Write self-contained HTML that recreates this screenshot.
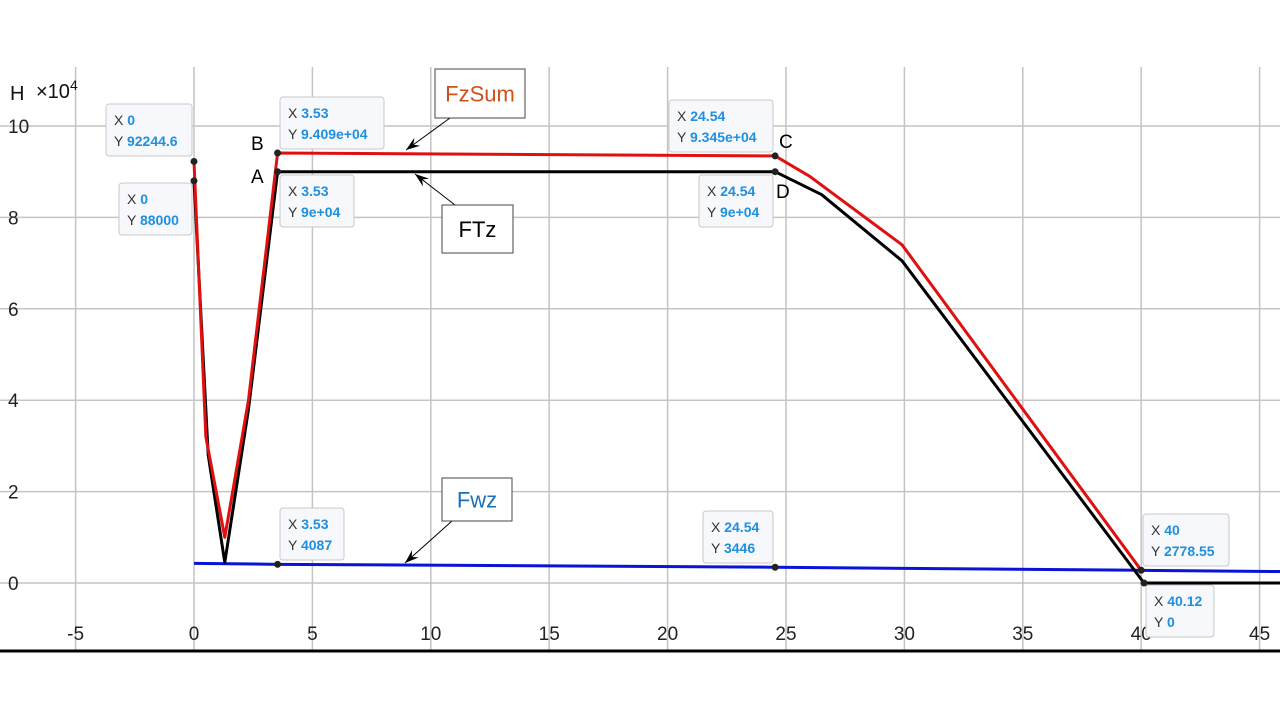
<!DOCTYPE html>
<html><head><meta charset="utf-8"><style>
body{margin:0;background:#fff;width:1280px;height:720px;overflow:hidden;font-family:"Liberation Sans",sans-serif}
svg text{font-family:"Liberation Sans",sans-serif}
</style></head><body>
<svg id="chart" width="1280" height="720" xmlns="http://www.w3.org/2000/svg"></svg>
<script>
const xTicks=[-5,0,5,10,15,20,25,30,35,40,45];
const yTicks=[0,2,4,6,8,10];
const ftzX=[0,0.6,1.3,2.3,3.53,24.54,26.5,29.9,40.12,46];
const ftzY=[8.8,2.8,0.45,3.8,9.0,9.0,8.5,7.05,0,0];
const fzsumX=[0,0.5,1.3,2.3,3.53,24.54,26,29.9,40];
const fzsumY=[9.22446,3.2,1.0,4.0,9.409,9.345,8.9,7.4,0.277855];
const fwzX=[0,3.53,24.54,40,46];
const fwzY=[0.43,0.4087,0.3446,0.277855,0.25];
const tips=[
 {x:0,y:9.22446,tx:106,ty:104,w:86,l1:"0",l2:"92244.6"},
 {x:0,y:8.8,tx:119,ty:183,w:73,l1:"0",l2:"88000"},
 {x:3.53,y:9.409,tx:280,ty:97,w:104,l1:"3.53",l2:"9.409e+04"},
 {x:3.53,y:9.0,tx:280,ty:175,w:74,l1:"3.53",l2:"9e+04"},
 {x:24.54,y:9.345,tx:669,ty:100,w:104,l1:"24.54",l2:"9.345e+04"},
 {x:24.54,y:9.0,tx:699,ty:175,w:74,l1:"24.54",l2:"9e+04"},
 {x:3.53,y:0.4087,tx:280,ty:508,w:64,l1:"3.53",l2:"4087"},
 {x:24.54,y:0.3446,tx:703,ty:511,w:70,l1:"24.54",l2:"3446"},
 {x:40,y:0.277855,tx:1143,ty:514,w:86,l1:"40",l2:"2778.55"},
 {x:40.12,y:0,tx:1146,ty:585,w:68,l1:"40.12",l2:"0"}
];
const svg=document.getElementById('chart');
const NS='http://www.w3.org/2000/svg';
function X(v){return 194+v*23.68;}
function Y(v){return 583-v*45.7;}
function mk(tag,attrs,parent){const e=document.createElementNS(NS,tag);for(const k in attrs)e.setAttribute(k,attrs[k]);(parent||svg).appendChild(e);return e;}
// grid
xTicks.forEach(t=>{
 const l=mk('line',{x1:X(t),x2:X(t),y1:67,y2:650,stroke:'#c4c4c4','stroke-width':1.5});
 
 
 const tx=mk('text',{x:X(t),y:640,'font-size':19,'text-anchor':'middle',fill:'#222'});
 tx.textContent=t;
 
 
});
yTicks.forEach(t=>{
 const l=mk('line',{x1:0,x2:1280,y1:Y(t),y2:Y(t),stroke:'#c4c4c4','stroke-width':1.5});
 
 
 const tx=mk('text',{x:8,y:Y(t)+7,'font-size':19,fill:'#222'});
 tx.textContent=t;
 
 
});
const ax=mk('line',{x1:0,x2:1280,y1:651,y2:651,stroke:'#000','stroke-width':3});


const yl=mk('text',{x:10,y:100,'font-size':20,fill:'#111'});
yl.textContent='H';


const ex=mk('text',{x:36,y:98,'font-size':20,fill:'#111'});
ex.innerHTML='×10<tspan dy="-8" font-size="14">4</tspan>';


function series(xs,ys,color,name){
 const p=mk('polyline',{points:xs.map((x,i)=>X(x)+','+Y(ys[i])).join(' '),fill:'none',stroke:color,'stroke-width':3,'stroke-linejoin':'round'});
 
 
}
series(fwzX,fwzY,'#0a14d8','fwz-line');
series(ftzX,ftzY,'#000','ftz-line');
series(fzsumX,fzsumY,'#e01010','fzsum-line');
// labels A B C D
[["B",251,150],["A",251,183],["C",779,148],["D",776,198]].forEach(a=>{
 const t=mk('text',{x:a[1],y:a[2],'font-size':19,fill:'#000'});t.textContent=a[0];
 
 
});
// tooltips
tips.forEach(d=>{
 const g=mk('g',{});
 
 
 mk('rect',{x:d.tx,y:d.ty,width:d.w,height:52,rx:3,fill:'#f7f8fb',stroke:'#c8c8c8'},g);
 const t1=mk('text',{x:d.tx+8,y:d.ty+21,'font-size':14,fill:'#333'},g);
 t1.innerHTML='X <tspan fill="#1e90e0" font-weight="bold">'+d.l1+'</tspan>';
 const t2=mk('text',{x:d.tx+8,y:d.ty+42,'font-size':14,fill:'#333'},g);
 t2.innerHTML='Y <tspan fill="#1e90e0" font-weight="bold">'+d.l2+'</tspan>';
 mk('circle',{cx:X(d.x),cy:Y(d.y),r:3.5,fill:'#222'},g);
});
// annotation boxes
function ann(bx,by,w,h,txt,color,ax1,ay1,ax2,ay2,name){
 const g=mk('g',{});
 
 
 mk('line',{x1:ax1,y1:ay1,x2:ax2,y2:ay2,stroke:'#000','stroke-width':1},g);
 const dx=ax2-ax1,dy=ay2-ay1,L=Math.hypot(dx,dy),ux=dx/L,uy=dy/L;
 const bx0=ax2-ux*14,by0=ay2-uy*14;
 mk('polygon',{points:`${ax2},${ay2} ${bx0-uy*5},${by0+ux*5} ${ax2-ux*9},${ay2-uy*9} ${bx0+uy*5},${by0-ux*5}`,fill:'#000'},g);
 mk('rect',{x:bx,y:by,width:w,height:h,fill:'#fff',stroke:'#444'},g);
 const t=mk('text',{x:bx+w/2,y:by+h/2+8,'font-size':22,'text-anchor':'middle',fill:color},g);
 t.textContent=txt;
}
ann(435,69,90,49,'FzSum','#d0501a',450,118,406,150,'fzsum-annotation');
ann(442,205,71,48,'FTz','#000',455,205,415,174,'ftz-annotation');
ann(442,478,70,43,'Fwz','#1a6fb8',452,521,405,563,'fwz-annotation');
</script>
</body></html>
